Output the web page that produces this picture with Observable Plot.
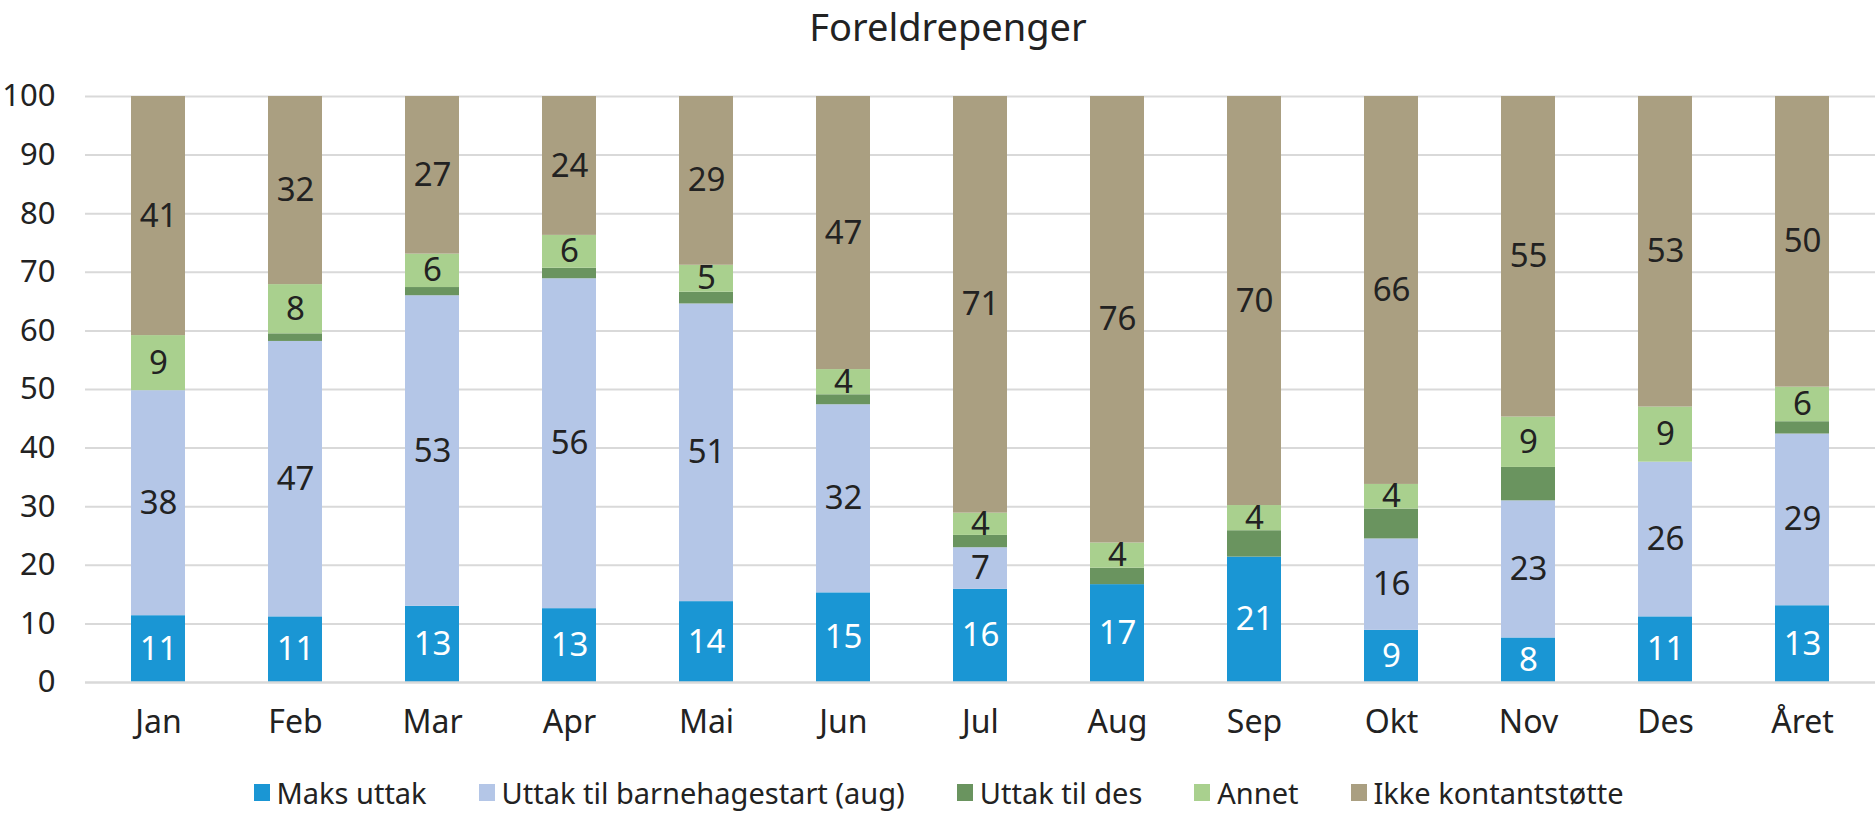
<!DOCTYPE html>
<html>
<head>
<meta charset="utf-8">
<script src="https://cdn.jsdelivr.net/npm/d3@7"></script>
<script src="https://cdn.jsdelivr.net/npm/@observablehq/plot@0.6"></script>
<style>
  html, body { margin: 0; padding: 0; background: #fff; }
  body { width: 1875px; height: 813px; overflow: hidden; font-family: "Noto Sans", sans-serif; color: #222; }
  #title { height: 48px; line-height: normal; font-size: 38px; text-align: center; padding-left: 21px; overflow: visible; }
  #chart svg { display: block; }
  #legend { display: flex; justify-content: center; align-items: center; gap: 52px; font-size: 29px; padding-left: 2px; height: 88px; }
  #legend .item { display: flex; align-items: center; white-space: nowrap; }
  #legend .sw { width: 16px; height: 17px; margin-right: 7px; }
</style>
</head>
<body>
<div id="title">Foreldrepenger</div>
<div id="chart"></div>
<div id="legend"></div>
<script>
const months = ["Jan","Feb","Mar","Apr","Mai","Jun","Jul","Aug","Sep","Okt","Nov","Des","Året"];
const series = ["Maks uttak","Uttak til barnehagestart (aug)","Uttak til des","Annet","Ikke kontantstøtte"];
const colors = ["#1a96d4","#b4c6e7","#6a945f","#a9d08e","#aa9f81"];
const maks      = [11.4, 11.2, 13.0, 12.6, 13.8, 15.3, 15.9, 16.7, 21.4,  8.9,  7.6, 11.2, 13.1];
const barnehage = [38.4, 47.0, 53.0, 56.3, 50.8, 32.1,  7.1,  0.0,  0.0, 15.6, 23.4, 26.4, 29.3];
const tilDes    = [ 0.0,  1.3,  1.4,  1.8,  2.0,  1.7,  2.1,  2.8,  4.5,  5.1,  5.7,  0.0,  2.1];
const annet     = [ 9.4,  8.4,  5.7,  5.6,  4.6,  4.3,  3.8,  4.3,  4.3,  4.2,  8.6,  9.4,  5.9];
const ikke      = [40.8, 32.1, 26.9, 23.7, 28.8, 46.6, 71.1, 76.2, 69.8, 66.2, 54.7, 53.0, 49.6];
const labelled  = [true, true, false, true, true];
const yTicks = [0,10,20,30,40,50,60,70,80,90,100];

const values = [maks, barnehage, tilDes, annet, ikke];
const rows = [];
series.forEach((s, i) => months.forEach((m, j) => rows.push({month: m, series: s, si: i, value: values[i][j]})));

const chart = Plot.plot({
  width: 1875,
  height: 700,
  marginLeft: 85,
  marginRight: 0,
  marginTop: 48,
  marginBottom: 66,
  style: {fontFamily: "Noto Sans", fontSize: "32px", color: "#222", background: "white"},
  x: {domain: months, paddingInner: 0.608, paddingOuter: 0.304, label: null},
  y: {domain: [0, 100], label: null},
  color: {domain: series, range: colors},
  marks: [
    Plot.gridY(yTicks.slice(1), {stroke: "#d9d9d9", strokeOpacity: 1, strokeWidth: 2}),
    Plot.barY(rows, {x: "month", y: "value", fill: "series", order: null}),
    Plot.ruleY([0], {stroke: "#d9d9d9", strokeWidth: 2.5}),
    Plot.text(rows, Plot.stackY({
      x: "month", y: "value", z: "series", order: null,
      text: d => (labelled[d.si] && d.value > 0) ? String(Math.round(d.value)) : "",
      fill: d => d.si === 0 ? "white" : "#222",
      fontSize: 33
    })),
    Plot.axisY(yTicks, {tickSize: 0, tickPadding: 30, fontSize: 31, fill: "#222", label: null}),
    Plot.axisX({tickSize: 0, tickPadding: 28, fontSize: 32, fill: "#222", label: null})
  ]
});
document.getElementById("chart").appendChild(chart);

const legend = document.getElementById("legend");
series.forEach((s, i) => {
  const it = document.createElement("div");
  it.className = "item";
  const sw = document.createElement("span");
  sw.className = "sw";
  sw.style.background = colors[i];
  const tx = document.createElement("span");
  tx.textContent = s;
  it.appendChild(sw);
  it.appendChild(tx);
  legend.appendChild(it);
});
</script>
</body>
</html>
